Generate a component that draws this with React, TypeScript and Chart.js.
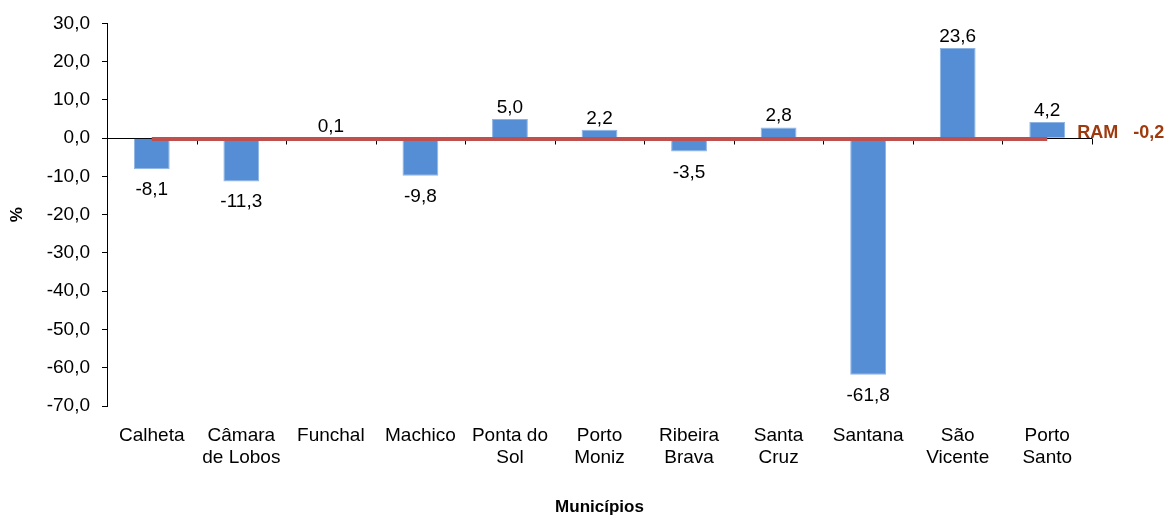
import React, { useEffect, useRef } from "react";
import { Chart, registerables } from "chart.js";

Chart.register(...registerables);

const categories: (string | string[])[] = [
  "Calheta",
  ["Câmara", "de Lobos"],
  "Funchal",
  "Machico",
  ["Ponta do", "Sol"],
  ["Porto", "Moniz"],
  ["Ribeira", "Brava"],
  ["Santa", "Cruz"],
  "Santana",
  ["São", "Vicente"],
  ["Porto", "Santo"],
];
const municipalValues = [-8.1, -11.3, 0.1, -9.8, 5.0, 2.2, -3.5, 2.8, -61.8, 23.6, 4.2];
const ramValue = -0.2;
const ramName = "RAM";
const yTicks = [30, 20, 10, 0, -10, -20, -30, -40, -50, -60, -70];
const xTitle = "Municípios";
const yTitle = "%";

const FONT = "Arial, 'Liberation Sans', sans-serif";
const fmt = (v: number) => v.toFixed(1).replace(".", ",");

const decorPlugin = {
  id: "decor",
  beforeDatasetsDraw(chart: any) {
    const { ctx, chartArea, scales } = chart;
    const x = scales.x;
    const y = scales.y;
    const y0 = Math.round(y.getPixelForValue(0)) + 0.5;
    ctx.save();
    ctx.strokeStyle = "#000";
    ctx.lineWidth = 1;
    ctx.beginPath();
    ctx.moveTo(chartArea.left, y0);
    ctx.lineTo(chartArea.right, y0);
    const n = categories.length;
    for (let i = 0; i < n; i++) {
      const bx =
        i < n - 1
          ? (x.getPixelForValue(i) + x.getPixelForValue(i + 1)) / 2
          : chartArea.right;
      const px = Math.round(bx) + 0.5;
      ctx.moveTo(px, y0);
      ctx.lineTo(px, y0 + 6);
    }
    ctx.stroke();
    ctx.restore();
  },
  afterDatasetsDraw(chart: any) {
    const { ctx } = chart;
    const barMeta = chart.getDatasetMeta(1);
    ctx.save();
    ctx.fillStyle = "#000";
    ctx.font = `19px ${FONT}`;
    ctx.textAlign = "center";
    ctx.textBaseline = "alphabetic";
    barMeta.data.forEach((el: any, i: number) => {
      const v = municipalValues[i];
      if (v >= 0) {
        ctx.fillText(fmt(v), el.x, el.y - 6);
      } else {
        ctx.fillText(fmt(v), el.x, el.y + 26);
      }
    });
    // RAM label at the end of the line
    const lineMeta = chart.getDatasetMeta(0);
    const last = lineMeta.data[lineMeta.data.length - 1];
    ctx.fillStyle = "#9E3A0E";
    ctx.font = `bold 18px ${FONT}`;
    ctx.textAlign = "left";
    ctx.fillText(ramName, last.x + 30, last.y - 1);
    ctx.fillText(fmt(ramValue), last.x + 86, last.y - 1);
    ctx.restore();
  },
};

export default function App() {
  const canvasRef = useRef<HTMLCanvasElement | null>(null);

  useEffect(() => {
    if (!canvasRef.current) return;
    const chart = new Chart(canvasRef.current, {
      type: "bar",
      data: {
        labels: categories as any,
        datasets: [
          {
            type: "line",
            label: ramName,
            data: categories.map(() => ramValue),
            borderColor: "#C0504D",
            backgroundColor: "#C0504D",
            borderWidth: 4,
            pointRadius: 0,
            borderCapStyle: "butt",
            tension: 0,
            order: 0,
          } as any,
          {
            type: "bar",
            label: "Municípios",
            data: municipalValues,
            backgroundColor: "#558ED5",
            borderColor: "#8EB4E3",
            borderWidth: 1,
            categoryPercentage: 1,
            barPercentage: 0.4,
            order: 1,
          } as any,
        ],
      },
      options: {
        responsive: true,
        maintainAspectRatio: false,
        animation: false,
        layout: { padding: { top: 20, right: 74, left: 0, bottom: 0 } },
        plugins: {
          legend: { display: false },
          tooltip: { enabled: false },
        },
        scales: {
          x: {
            offset: true,
            grid: { display: false },
            border: { display: false },
            ticks: {
              color: "#000",
              font: { family: FONT, size: 19, lineHeight: 1.2 },
              padding: 10,
              maxRotation: 0,
              minRotation: 0,
              autoSkip: false,
            },
            title: {
              display: true,
              text: xTitle,
              color: "#000",
              font: { family: FONT, size: 17, weight: "bold", lineHeight: 1.0 },
              padding: { top: 0, bottom: 0 },
            },
            afterFit: (s: any) => {
              s.height = 110;
            },
          },
          y: {
            min: Math.min(...yTicks),
            max: Math.max(...yTicks),
            grid: {
              display: true,
              drawOnChartArea: false,
              drawTicks: true,
              tickLength: 5,
              color: "#000",
            },
            border: { display: true, color: "#000", width: 1 },
            ticks: {
              stepSize: 10,
              color: "#000",
              font: { family: FONT, size: 19 },
              padding: 12,
              callback: (v: any) => fmt(Number(v)),
            },
            title: {
              display: true,
              text: yTitle,
              color: "#000",
              font: { family: FONT, size: 17, weight: "bold" },
              padding: { top: 7, bottom: 0 },
            },
            afterFit: (s: any) => {
              s.width = 107;
            },
          },
        },
      },
      plugins: [decorPlugin],
    });
    return () => chart.destroy();
  }, []);

  return (
    <div style={{ position: "absolute", left: 0, top: 0, width: 1166, height: 516 }}>
      <canvas ref={canvasRef} />
    </div>
  );
}
